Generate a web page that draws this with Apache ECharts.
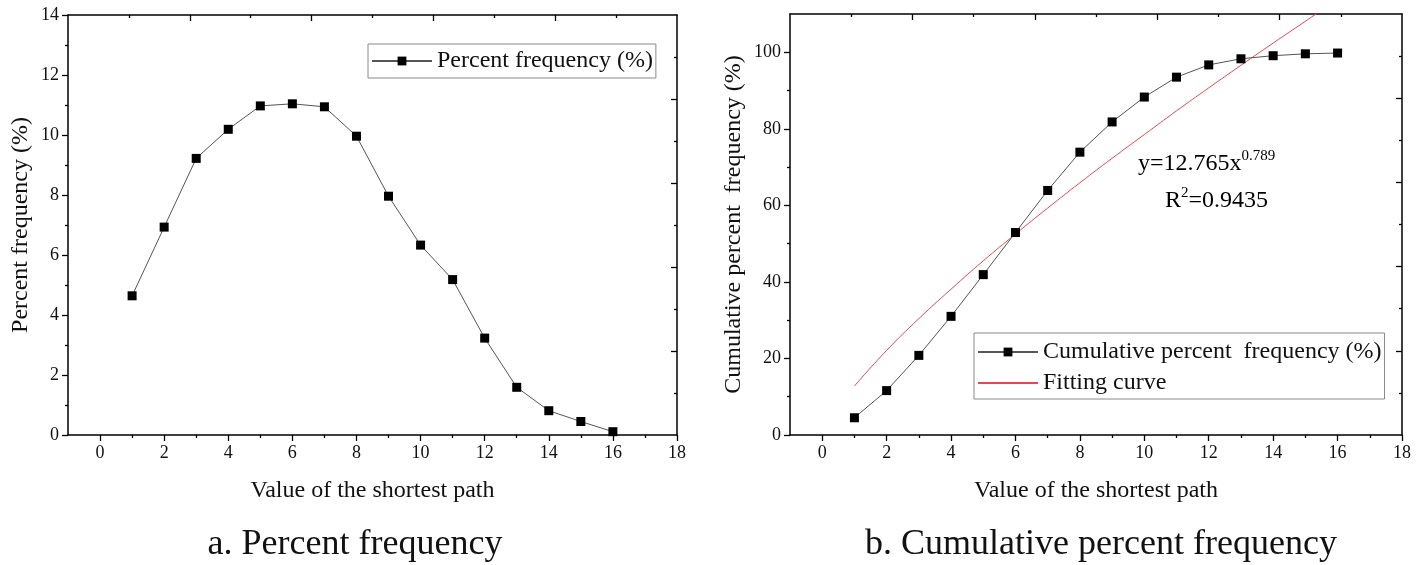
<!DOCTYPE html>
<html>
<head>
<meta charset="utf-8">
<script src="https://cdn.jsdelivr.net/npm/echarts@6/dist/echarts.min.js"></script>
<style>
html,body{margin:0;padding:0;background:#fff;}
#chart{width:1427px;height:565px;}
</style>
</head>
<body>
<div id="chart"></div>
<script>
// ---- data ----
const pathValues = [1,2,3,4,5,6,7,8,9,10,11,12,13,14,15,16];
const percentFrequency = [4.64,6.93,9.22,10.19,10.97,11.04,10.94,9.96,7.96,6.33,5.18,3.23,1.59,0.81,0.45,0.11];
const cumulativeFrequency = [4.5,11.6,20.8,31.0,41.9,52.9,63.9,73.9,81.8,88.3,93.5,96.7,98.3,99.1,99.6,99.8];
const fitX = [1,2,3,4,5,6,7,8,9,10,11,12,13,14,15,16];
const fitY = [12.8,22.1,30.4,38.1,45.5,52.5,59.3,65.9,72.3,78.5,84.7,90.7,96.6,102.4,108.1,113.9];

const xMajorTicks = [0,2,4,6,8,10,12,14,16,18];
const xMinorTicks = [1,3,5,7,9,11,13,15,17];
const leftYMajorTicks = [0,2,4,6,8,10,12,14];
const leftYMinorTicks = [1,3,5,7,9,11,13];
const rightYMajorTicks = [0,20,40,60,80,100];
const rightYMinorTicks = [10,30,50,70,90];
const mirrorMajorTicks = [2,4,6,8];
const mirrorMinorTicks = [1,3,5,7,9];

const seriesNames = {
  percent: 'Percent frequency (%)',
  cumulative: 'Cumulative percent  frequency (%)',
  fit: 'Fitting curve'
};
const titles = {
  x: 'Value of the shortest path',
  yLeft: 'Percent frequency (%)',
  yRight: 'Cumulative percent  frequency (%)',
  capA: 'a. Percent frequency',
  capB: 'b. Cumulative percent frequency'
};

// ---- styling ----
const FONT = '"Liberation Serif", "DejaVu Serif", serif';
const AX = {color:'#000', width:1.5};
const TK = {color:'#000', width:1.3};
const labelStyle = {fontFamily:FONT, fontSize:18, color:'#111'};
const nameStyle = {fontFamily:FONT, fontSize:24, color:'#111'};

function pair(xs, ys){ return xs.map((x,i)=>[x, ys[i]]); }

function xAxesFor(g, min, max){
  return [
    {gridIndex:g, type:'value', position:'bottom', min:min, max:max,
     axisLine:{show:true, onZero:false, lineStyle:AX},
     axisTick:{show:true, customValues:xMajorTicks, length:6, lineStyle:TK},
     axisLabel:{show:true, customValues:xMajorTicks, margin:9, ...labelStyle},
     splitLine:{show:false},
     name:titles.x, nameLocation:'middle', nameGap:44, nameTextStyle:nameStyle},
    {gridIndex:g, type:'value', position:'bottom', min:min, max:max,
     axisLine:{show:false, onZero:false},
     axisTick:{show:true, customValues:xMinorTicks, length:3, lineStyle:TK},
     axisLabel:{show:false}, splitLine:{show:false}},
    {gridIndex:g, type:'value', position:'top', min:0, max:10,
     axisLine:{show:true, onZero:false, lineStyle:AX},
     axisTick:{show:true, inside:true, customValues:mirrorMajorTicks, length:6, lineStyle:TK},
     axisLabel:{show:false}, splitLine:{show:false}},
    {gridIndex:g, type:'value', position:'top', min:0, max:10,
     axisLine:{show:false, onZero:false},
     axisTick:{show:true, inside:true, customValues:mirrorMinorTicks, length:3, lineStyle:TK},
     axisLabel:{show:false}, splitLine:{show:false}}
  ];
}
function yAxesFor(g, min, max, major, minor, name, gap){
  return [
    {gridIndex:g, type:'value', position:'left', min:min, max:max,
     axisLine:{show:true, onZero:false, lineStyle:AX},
     axisTick:{show:true, customValues:major, length:6, lineStyle:TK},
     axisLabel:{show:true, customValues:major, margin:9, ...labelStyle},
     splitLine:{show:false},
     name:name, nameLocation:'middle', nameRotate:90, nameGap:gap, nameTextStyle:nameStyle},
    {gridIndex:g, type:'value', position:'left', min:min, max:max,
     axisLine:{show:false, onZero:false},
     axisTick:{show:true, customValues:minor, length:3, lineStyle:TK},
     axisLabel:{show:false}, splitLine:{show:false}},
    {gridIndex:g, type:'value', position:'right', min:0, max:10,
     axisLine:{show:true, onZero:false, lineStyle:AX},
     axisTick:{show:true, inside:true, customValues:mirrorMajorTicks, length:6, lineStyle:TK},
     axisLabel:{show:false}, splitLine:{show:false}},
    {gridIndex:g, type:'value', position:'right', min:0, max:10,
     axisLine:{show:false, onZero:false},
     axisTick:{show:true, inside:true, customValues:mirrorMinorTicks, length:3, lineStyle:TK},
     axisLabel:{show:false}, splitLine:{show:false}}
  ];
}

const legendBase = {
  backgroundColor:'#fff', borderColor:'#8a8a8a', borderWidth:1, borderRadius:0,
  itemWidth:60, itemHeight:11, itemGap:7,
  textStyle:{fontFamily:FONT, fontSize:24, color:'#111', lineHeight:24},
  selectedMode:false
};

const option = {
  backgroundColor:'#fff',
  animation:false,
  grid:[
    {left:68, right:750, top:15, bottom:130},
    {left:790, right:25, top:14, bottom:130}
  ],
  xAxis:[...xAxesFor(0,-1,18), ...xAxesFor(1,-1,18)],
  yAxis:[...yAxesFor(0,0,14,leftYMajorTicks,leftYMinorTicks,titles.yLeft,35),
         ...yAxesFor(1,0,110,rightYMajorTicks,rightYMinorTicks,titles.yRight,44)],
  legend:[
    {...legendBase, data:[seriesNames.percent], left:368, top:44, padding:[5,3,5,3]},
    {...legendBase, orient:'vertical',
     data:[seriesNames.cumulative, {name:seriesNames.fit, itemStyle:{opacity:0}}],
     left:974, top:333, padding:[7,3,4,3]}
  ],
  series:[
    {name:seriesNames.percent, type:'line', xAxisIndex:0, yAxisIndex:0,
     data:pair(pathValues, percentFrequency), symbol:'rect', symbolSize:9,
     itemStyle:{color:'#000'}, lineStyle:{color:'#555', width:1}},
    {name:seriesNames.fit, type:'line', xAxisIndex:4, yAxisIndex:4,
     data:pair(fitX, fitY), symbol:'none', smooth:true, clip:true,
     itemStyle:{color:'#e8474f'}, lineStyle:{color:'#e8474f', width:1}, z:3},
    {name:seriesNames.cumulative, type:'line', xAxisIndex:4, yAxisIndex:4,
     data:pair(pathValues, cumulativeFrequency), symbol:'rect', symbolSize:9,
     itemStyle:{color:'#000'}, lineStyle:{color:'#555', width:1}, z:4}
  ],
  graphic:[
    {type:'text', left:1138, top:149, z:10,
     style:{text:'{n|y=12.765x}{s|0.789}', fontFamily:FONT,
       rich:{n:{fontFamily:FONT, fontSize:24, color:'#111', lineHeight:30},
             s:{fontFamily:FONT, fontSize:15, color:'#111', lineHeight:14, verticalAlign:'top'}}}},
    {type:'text', left:1165, top:186, z:10,
     style:{text:'{n|R}{s|2}{n|=0.9435}', fontFamily:FONT,
       rich:{n:{fontFamily:FONT, fontSize:24, color:'#111', lineHeight:30},
             s:{fontFamily:FONT, fontSize:15, color:'#111', lineHeight:14, verticalAlign:'top'}}}},
    {type:'text', x:355, y:545, z:10,
     style:{text:titles.capA, fontFamily:FONT, fontSize:36, fill:'#111', align:'center', verticalAlign:'middle'}},
    {type:'text', x:1101, y:545, z:10,
     style:{text:titles.capB, fontFamily:FONT, fontSize:36, fill:'#111', align:'center', verticalAlign:'middle'}}
  ]
};

const chart = echarts.init(document.getElementById('chart'), null, {renderer:'canvas'});
chart.setOption(option);
</script>
</body>
</html>
